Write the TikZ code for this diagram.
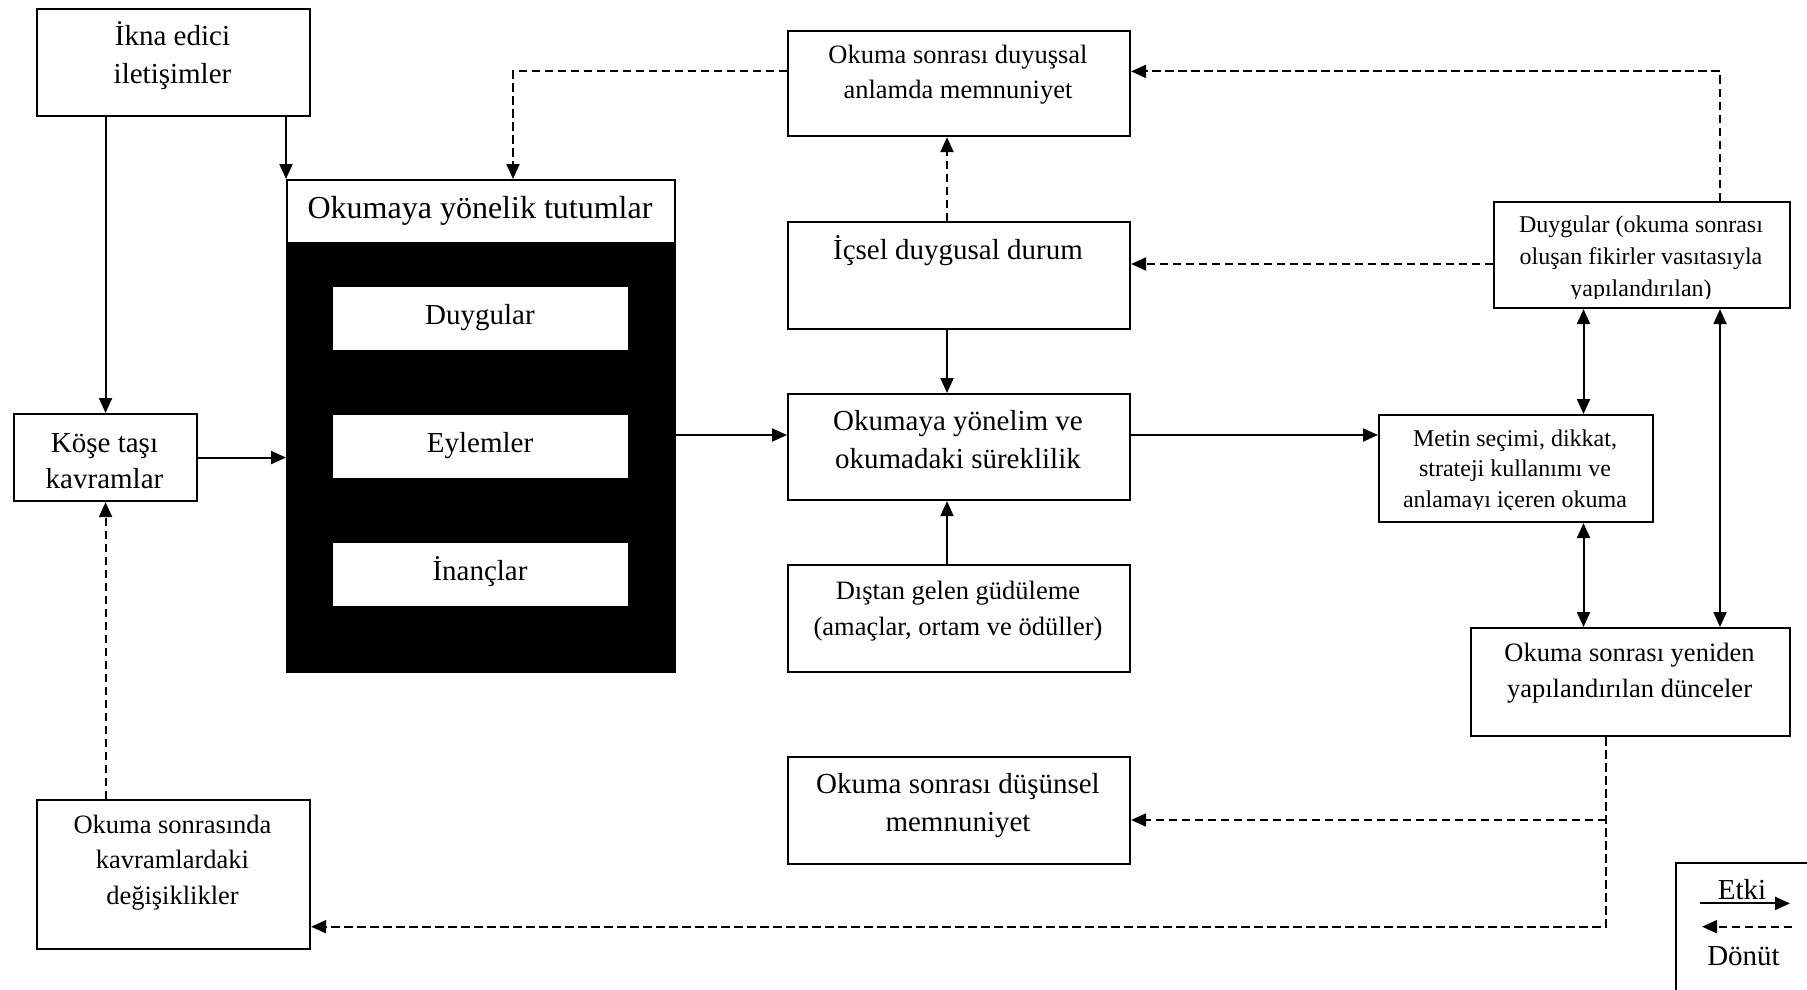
\documentclass[tikz,border=0pt]{standalone}
\usepackage{fontspec}
\setmainfont{Liberation Serif}
\usetikzlibrary{arrows.meta}
\begin{document}
\begin{tikzpicture}[x=1pt,y=-1pt,
  box/.style={draw,line width=2.1pt,inner sep=0pt,anchor=north west,fill=white},
  sub/.style={fill=white,draw=white,inner sep=0pt,anchor=north west,minimum width=294pt,minimum height=62pt},
  tl/.style={anchor=base,align=center,inner sep=0pt,font=\fontsize{29}{38}\selectfont},
  tm/.style={anchor=base,align=center,inner sep=0pt,font=\fontsize{26.5}{35.3}\selectfont},
  ts/.style={anchor=base,align=center,inner sep=0pt,font=\fontsize{24}{31.5}\selectfont},
  arr/.style={line width=2pt,-{Triangle[length=15pt,width=13pt]}},
  darr/.style={line width=2pt,{Triangle[length=15pt,width=13pt]}-{Triangle[length=15pt,width=13pt]}},
  farr/.style={line width=2pt,dash pattern=on 8.5pt off 4.5pt,-{Triangle[length=15pt,width=13pt]}}]
\useasboundingbox (0,0) rectangle (1807,990);

% boxes
\node[box,minimum width=273pt,minimum height=107pt] (ikna) at (36,8) {};
\node[box,minimum width=183pt,minimum height=87pt] (kose) at (13,413) {};
\node[box,fill=black,minimum width=388pt,minimum height=492pt] (att) at (286,179) {};
\node[box,minimum width=388pt,minimum height=63pt] (band) at (286,179) {};
\node[sub] (duy) at (333,287) {};
\node[sub] (eyl) at (333,415) {};
\node[sub] (ina) at (333,543) {};
\node[box,minimum width=342pt,minimum height=105pt] (top) at (787,30) {};
\node[box,minimum width=342pt,minimum height=107pt] (icsel) at (787,221) {};
\node[box,minimum width=342pt,minimum height=106pt] (yonelim) at (787,393) {};
\node[box,minimum width=342pt,minimum height=107pt] (distan) at (787,564) {};
\node[box,minimum width=342pt,minimum height=107pt] (dusunsel) at (787,756) {};
\node[box,minimum width=296pt,minimum height=106pt] (duygu2) at (1493,201) {};
\node[box,minimum width=274pt,minimum height=107pt] (metin) at (1378,414) {};
\node[box,minimum width=319pt,minimum height=108pt] (dunce) at (1470,627) {};
\node[box,minimum width=273pt,minimum height=149pt] (sonra) at (36,799) {};

% texts (anchored at the baseline of their last line)
\node[tl] (iknat) at (172.5,83) {İkna edici\\iletişimler};
\node[tl,font=\fontsize{29}{36.5}\selectfont] (koset) at (104.5,488.5) {Köşe taşı\\kavramlar};
\node[anchor=base,inner sep=0pt,font=\fontsize{32}{38}\selectfont] (bandt) at (480,218.5) {Okumaya yönelik tutumlar};
\node[tl] (duyt) at (480,324) {Duygular};
\node[tl] (eylt) at (480,452) {Eylemler};
\node[tl] (inat) at (480,580) {İnançlar};
\node[tm,font=\fontsize{26.5}{35.6}\selectfont] (topt) at (958,99) {Okuma sonrası duyuşsal\\anlamda memnuniyet};
\node[tl] (icselt) at (958,259) {İçsel duygusal durum};
\node[tl] (yonelimt) at (958,468.8) {Okumaya yönelim ve\\okumadaki süreklilik};
\node[tm] (distant) at (958,635) {Dıştan gelen güdüleme\\(amaçlar, ortam ve ödüller)};
\node[tl] (dusunselt) at (958,831.7) {Okuma sonrası düşünsel\\memnuniyet};
\begin{scope}
  \clip (1493,201) rectangle (1789,298.5);
  \node[ts,font=\fontsize{24}{32.2}\selectfont] (duygu2t) at (1641,296.4) {Duygular (okuma sonrası\\oluşan fikirler vasıtasıyla\\yapılandırılan)};
\end{scope}
\begin{scope}
  \clip (1378,414) rectangle (1652,509.5);
  \node[ts,font=\fontsize{24}{30.3}\selectfont] (metint) at (1515,507) {Metin seçimi, dikkat,\\strateji kullanımı ve\\anlamayı içeren okuma};
\end{scope}
\node[tm] (duncet) at (1629.5,697) {Okuma sonrası yeniden\\yapılandırılan dünceler};
\node[tm] (sonrat) at (172.5,904) {Okuma sonrasında\\kavramlardaki\\değişiklikler};

% reference positions of the connector runs
\coordinate (yl) at (0,435);
\coordinate (xm) at (947,0);
\coordinate (yt) at (0,71.4);
\coordinate (xa) at (513,0);
\coordinate (xr) at (1720,0);
\coordinate (yi) at (0,264);
\coordinate (xd) at (1583.5,0);
\coordinate (xf) at (1606,0);
\coordinate (yu) at (0,820);
\coordinate (yb) at (0,926.7);

% influence (solid)
\draw[arr] (kose.north |- ikna.south) -- (kose.north);
\draw[arr] (att.north west |- ikna.south) -- (att.north west);
\draw[arr] (kose.east) -- (kose.east -| att.west);
\draw[arr] (att.east |- yl) -- (yonelim.west |- yl);
\draw[arr] (yonelim.east |- yl) -- (metin.west |- yl);
\draw[arr] (icsel.south -| xm) -- (yonelim.north -| xm);
\draw[arr] (distan.north -| xm) -- (yonelim.south -| xm);
\draw[darr] (metin.north -| xd) -- (duygu2.south -| xd);
\draw[darr] (metin.south -| xd) -- (dunce.north -| xd);
\draw[darr] (dunce.north -| xr) -- (duygu2.south -| xr);

% feedback (dashed)
\draw[farr] (icsel.north -| xm) -- (top.south -| xm);
\draw[farr] (top.west |- yt) -| (band.north -| xa);
\draw[farr] (duygu2.north -| xr) |- (top.east |- yt);
\draw[farr] (duygu2.west |- yi) -- (icsel.east |- yi);
\draw[farr] (dunce.south -| xf) -- (xf |- yb) -- (sonra.east |- yb);
\draw[farr] (xf |- yu) -- (dusunsel.east |- yu);
\draw[farr] (sonra.north -| kose.south) -- (kose.south);

% legend
\begin{scope}
  \clip (0,0) rectangle (1807,990);
  \node[box,minimum width=200pt,minimum height=200pt] (legend) at (1675,862) {};
\end{scope}
\coordinate (e1) at (1700,903.4);
\coordinate (e2) at (1790,903.4);
\coordinate (f1) at (1792,926.7);
\coordinate (f2) at (1702,926.7);
\draw[arr] (e1) -- (e2);
\draw[farr] (f1) -- (f2);
\node[tl] (etki) at (1742,899.5) {Etki};
\node[tl] (donut) at (1743.5,965.6) {Dönüt};
\end{tikzpicture}
\end{document}
